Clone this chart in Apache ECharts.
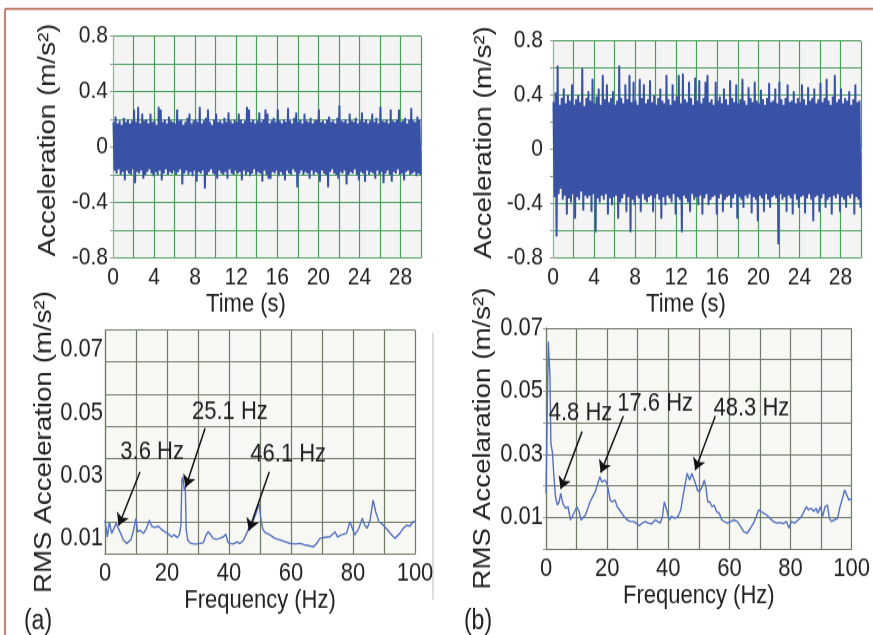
<!DOCTYPE html>
<html>
<head>
<meta charset="utf-8">
<script src="https://cdn.jsdelivr.net/npm/echarts@6/dist/echarts.min.js"></script>
<style>
  html, body { margin: 0; padding: 0; background: #fff; width: 873px; height: 635px; overflow: hidden; }
  /* the figure is laid out in a 873x538 box and stretched to full height */
  #chart { width: 873px; height: 538px; transform: scaleY(1.1803); transform-origin: 0 0; }
</style>
</head>
<body>
<div id="chart"></div>
<script>
// ---- time records: positive / negative peak per 0.2 s bin ----
const BIN = 0.2;

const peakUpA = [
  0.18, 0.22, 0.17, 0.19, 0.16, 0.21, 0.18, 0.20, 0.17, 0.19,
  0.27, 0.18, 0.29, 0.17, 0.24, 0.19, 0.20, 0.17, 0.24, 0.18,
  0.19, 0.16, 0.29, 0.27, 0.18, 0.20, 0.17, 0.22, 0.19, 0.18,
  0.17, 0.27, 0.19, 0.20, 0.16, 0.18, 0.21, 0.24, 0.17, 0.19,
  0.20, 0.18, 0.29, 0.17, 0.19, 0.21, 0.27, 0.18, 0.16, 0.20,
  0.24, 0.18, 0.19, 0.17, 0.21, 0.18, 0.25, 0.19, 0.17, 0.20,
  0.18, 0.24, 0.20, 0.17, 0.19, 0.29, 0.27, 0.18, 0.20, 0.17,
  0.19, 0.25, 0.18, 0.20, 0.27, 0.24, 0.17, 0.19, 0.21, 0.18,
  0.27, 0.19, 0.17, 0.20, 0.18, 0.28, 0.19, 0.17, 0.21, 0.25,
  0.18, 0.20, 0.17, 0.24, 0.19, 0.18, 0.21, 0.17, 0.19, 0.20,
  0.27, 0.18, 0.19, 0.17, 0.20, 0.22, 0.18, 0.19, 0.17, 0.21,
  0.30, 0.19, 0.18, 0.20, 0.17, 0.24, 0.19, 0.18, 0.21, 0.17,
  0.19, 0.25, 0.18, 0.20, 0.17, 0.19, 0.24, 0.18, 0.21, 0.17,
  0.29, 0.19, 0.18, 0.20, 0.17, 0.27, 0.19, 0.18, 0.20, 0.27,
  0.18, 0.19, 0.21, 0.17, 0.20, 0.28, 0.19, 0.18, 0.22, 0.20
];
const peakLoA = [
  -0.17, -0.19, -0.16, -0.20, -0.18, -0.24, -0.17, -0.19, -0.20, -0.16,
  -0.26, -0.18, -0.19, -0.17, -0.23, -0.20, -0.18, -0.16, -0.19, -0.21,
  -0.18, -0.20, -0.17, -0.24, -0.19, -0.16, -0.20, -0.18, -0.19, -0.17,
  -0.20, -0.18, -0.16, -0.27, -0.19, -0.17, -0.20, -0.18, -0.21, -0.17,
  -0.25, -0.18, -0.19, -0.17, -0.30, -0.20, -0.18, -0.16, -0.19, -0.20,
  -0.23, -0.17, -0.19, -0.20, -0.18, -0.23, -0.16, -0.19, -0.20, -0.17,
  -0.19, -0.18, -0.24, -0.17, -0.20, -0.18, -0.21, -0.19, -0.16, -0.20,
  -0.18, -0.19, -0.25, -0.17, -0.20, -0.23, -0.23, -0.18, -0.19, -0.17,
  -0.21, -0.18, -0.20, -0.24, -0.17, -0.19, -0.20, -0.16, -0.18, -0.29,
  -0.19, -0.17, -0.20, -0.18, -0.19, -0.23, -0.17, -0.20, -0.18, -0.19,
  -0.25, -0.17, -0.19, -0.20, -0.29, -0.18, -0.16, -0.19, -0.20, -0.23,
  -0.18, -0.19, -0.17, -0.27, -0.20, -0.18, -0.19, -0.16, -0.20, -0.24,
  -0.18, -0.19, -0.25, -0.17, -0.20, -0.18, -0.19, -0.23, -0.17, -0.20,
  -0.18, -0.26, -0.19, -0.17, -0.20, -0.25, -0.18, -0.19, -0.16, -0.20,
  -0.19, -0.24, -0.18, -0.17, -0.20, -0.19, -0.18, -0.21, -0.19, -0.20
];
const peakUpB = [
  0.35, 0.42, 0.62, 0.33, 0.38, 0.45, 0.34, 0.40, 0.36, 0.48,
  0.33, 0.37, 0.40, 0.35, 0.60, 0.32, 0.38, 0.43, 0.36, 0.52,
  0.34, 0.39, 0.45, 0.33, 0.55, 0.37, 0.48, 0.35, 0.38, 0.43,
  0.33, 0.36, 0.62, 0.38, 0.34, 0.48, 0.37, 0.55, 0.35, 0.50,
  0.36, 0.33, 0.52, 0.38, 0.48, 0.34, 0.37, 0.51, 0.35, 0.40,
  0.33, 0.38, 0.45, 0.36, 0.34, 0.55, 0.37, 0.33, 0.48, 0.36,
  0.39, 0.55, 0.34, 0.56, 0.37, 0.35, 0.50, 0.38, 0.33, 0.53,
  0.36, 0.51, 0.34, 0.38, 0.50, 0.55, 0.35, 0.37, 0.33, 0.50,
  0.36, 0.39, 0.34, 0.45, 0.37, 0.33, 0.51, 0.38, 0.35, 0.48,
  0.34, 0.37, 0.52, 0.36, 0.33, 0.46, 0.38, 0.35, 0.50, 0.36,
  0.34, 0.44, 0.37, 0.33, 0.38, 0.49, 0.35, 0.36, 0.45, 0.34,
  0.50, 0.37, 0.33, 0.38, 0.48, 0.35, 0.36, 0.43, 0.34, 0.38,
  0.35, 0.48, 0.37, 0.33, 0.46, 0.36, 0.38, 0.45, 0.34, 0.37,
  0.49, 0.35, 0.38, 0.52, 0.36, 0.33, 0.39, 0.55, 0.35, 0.37,
  0.45, 0.34, 0.38, 0.36, 0.43, 0.33, 0.37, 0.48, 0.35, 0.36
];
const peakLoB = [
  -0.35, -0.64, -0.33, -0.29, -0.37, -0.34, -0.48, -0.36, -0.39, -0.33,
  -0.51, -0.35, -0.37, -0.31, -0.45, -0.34, -0.36, -0.34, -0.46, -0.33,
  -0.61, -0.36, -0.39, -0.34, -0.37, -0.33, -0.48, -0.36, -0.41, -0.35,
  -0.34, -0.51, -0.39, -0.36, -0.33, -0.46, -0.35, -0.61, -0.37, -0.41,
  -0.34, -0.36, -0.46, -0.33, -0.37, -0.39, -0.35, -0.34, -0.46, -0.36,
  -0.33, -0.37, -0.51, -0.35, -0.41, -0.34, -0.36, -0.39, -0.33, -0.48,
  -0.35, -0.37, -0.61, -0.34, -0.36, -0.39, -0.46, -0.33, -0.37, -0.35,
  -0.41, -0.34, -0.48, -0.36, -0.33, -0.41, -0.37, -0.35, -0.34, -0.48,
  -0.36, -0.33, -0.46, -0.37, -0.35, -0.34, -0.43, -0.36, -0.33, -0.51,
  -0.35, -0.37, -0.43, -0.34, -0.36, -0.33, -0.47, -0.35, -0.37, -0.53,
  -0.34, -0.36, -0.46, -0.33, -0.37, -0.43, -0.35, -0.34, -0.36, -0.70,
  -0.33, -0.37, -0.35, -0.46, -0.34, -0.36, -0.48, -0.33, -0.37, -0.43,
  -0.35, -0.34, -0.47, -0.36, -0.33, -0.37, -0.53, -0.35, -0.34, -0.46,
  -0.36, -0.33, -0.43, -0.37, -0.35, -0.48, -0.34, -0.36, -0.33, -0.46,
  -0.35, -0.37, -0.43, -0.34, -0.36, -0.33, -0.48, -0.35, -0.37, -0.43
];

// ---- RMS spectra ----
const freqA = [0, 0.75, 1.4, 2.15, 3.6, 4.3, 5.05, 5.9, 7.0, 8.3, 9.1, 10.0, 10.5, 11.3, 12.4,
  13.4, 14.3, 15.05, 16.1, 17.2, 18.3, 19.4, 20.4, 21.5, 22.3, 23.3, 24.0, 24.5, 24.8, 25.1,
  25.6, 25.9, 26.2, 26.7, 27.4, 28.5, 29.6, 30.6, 31.7, 32.6, 33.3, 34.1, 34.9, 36.0, 37.0,
  38.2, 39.0, 39.6, 40.3, 41.4, 42.5, 43.5, 44.6, 45.7, 46.8, 47.9, 48.9, 49.7, 50.2, 50.8,
  51.6, 53.2, 54.8, 56.5, 58.1, 59.7, 61.3, 62.9, 64.5, 66.1, 67.2, 68.3, 69.3, 70.9, 72.6,
  74.2, 75.0, 76.3, 77.9, 79.0, 79.8, 80.6, 81.9, 83.0, 83.8, 84.6, 85.5, 86.5, 87.3, 88.4,
  89.8, 91.2, 92.5, 93.5, 95.1, 96.2, 97.3, 98.4, 99.4, 100];
const rmsA = [0.0157, 0.0104, 0.0152, 0.0115, 0.0147, 0.0131, 0.0115, 0.0094, 0.0083, 0.0094,
  0.0120, 0.0163, 0.0120, 0.0125, 0.0115, 0.0131, 0.0157, 0.0138, 0.0134, 0.0138,
  0.0127, 0.0120, 0.0113, 0.0104, 0.0110, 0.0102, 0.0110, 0.0141, 0.0285, 0.0295,
  0.0253, 0.0264, 0.0125, 0.0094, 0.0085, 0.0081, 0.0081, 0.0083, 0.0085, 0.0110,
  0.0120, 0.0110, 0.0099, 0.0096, 0.0099, 0.0104, 0.0112, 0.0088, 0.0083, 0.0081,
  0.0088, 0.0083, 0.0092, 0.0115, 0.0141, 0.0157, 0.0184, 0.0210, 0.0168, 0.0131,
  0.0118, 0.0110, 0.0099, 0.0094, 0.0088, 0.0083, 0.0081, 0.0083, 0.0078, 0.0075,
  0.0072, 0.0083, 0.0099, 0.0102, 0.0104, 0.0120, 0.0104, 0.0110, 0.0115, 0.0152,
  0.0131, 0.0110, 0.0131, 0.0163, 0.0141, 0.0131, 0.0157, 0.0221, 0.0184, 0.0152,
  0.0141, 0.0125, 0.0110, 0.0099, 0.0115, 0.0131, 0.0141, 0.0138, 0.0152, 0.0152];

const freqB = [0, 0.75, 1.0, 1.3, 1.6, 2.1, 2.6, 3.1, 3.7, 4.3,
  4.8, 5.5, 6.4, 7.2, 8.0, 8.6, 9.4, 10.1, 10.8, 11.5,
  12.0, 12.9, 13.7, 14.4, 15.3, 16.1, 16.9, 17.6, 18.3, 19.3,
  19.9, 20.4, 21.0, 21.7, 22.6, 23.3, 24.4, 25.5, 26.6, 27.6,
  28.7, 29.8, 30.5, 31.4, 32.5, 33.5, 34.6, 35.7, 36.6, 37.4,
  38.1, 38.7, 39.5, 40.3, 41.1, 42.2, 43.2, 44.1, 44.8, 45.6,
  46.2, 47.0, 47.7, 48.3, 48.9, 49.5, 50.2, 51.1, 51.8, 52.3,
  52.9, 53.6, 54.3, 55.0, 55.8, 56.7, 57.5, 58.3, 59.4, 60.4,
  61.5, 62.6, 63.7, 64.7, 65.8, 66.9, 67.9, 68.8, 69.6, 70.4,
  71.2, 72.2, 73.3, 74.4, 75.5, 76.6, 77.6, 78.7, 79.5, 80.3,
  81.4, 82.5, 83.6, 84.4, 85.2, 85.9, 86.8, 87.6, 88.4, 88.9,
  89.8, 90.5, 91.3, 92.1, 92.7, 93.4, 94.3, 95.4, 96.2, 97.0,
  97.7, 98.4, 99.1, 100];
const rmsB = [0.0176, 0.0657, 0.0660, 0.0546, 0.0335, 0.0306, 0.0229, 0.0166, 0.0139, 0.0149,
  0.0176, 0.0145, 0.0129, 0.0134, 0.0092, 0.0103, 0.0119, 0.0134, 0.0119, 0.0092,
  0.0087, 0.0108, 0.0129, 0.0149, 0.0166, 0.0181, 0.0205, 0.0229, 0.0212, 0.0218,
  0.0208, 0.0187, 0.0155, 0.0149, 0.0155, 0.0134, 0.0119, 0.0103, 0.0092, 0.0087,
  0.0087, 0.0080, 0.0073, 0.0082, 0.0087, 0.0082, 0.0080, 0.0092, 0.0087, 0.0082,
  0.0103, 0.0149, 0.0124, 0.0092, 0.0103, 0.0097, 0.0103, 0.0124, 0.0166, 0.0208,
  0.0240, 0.0218, 0.0240, 0.0238, 0.0208, 0.0187, 0.0181, 0.0197, 0.0218, 0.0197,
  0.0149, 0.0149, 0.0134, 0.0139, 0.0119, 0.0113, 0.0092, 0.0087, 0.0082, 0.0087,
  0.0092, 0.0087, 0.0071, 0.0055, 0.0050, 0.0066, 0.0082, 0.0103, 0.0124, 0.0119,
  0.0113, 0.0108, 0.0097, 0.0087, 0.0082, 0.0084, 0.0080, 0.0087, 0.0066, 0.0087,
  0.0082, 0.0092, 0.0103, 0.0119, 0.0134, 0.0124, 0.0129, 0.0119, 0.0129, 0.0113,
  0.0134, 0.0103, 0.0134, 0.0139, 0.0097, 0.0087, 0.0092, 0.0097, 0.0134, 0.0160,
  0.0187, 0.0171, 0.0155, 0.0160];

// ---- peak call-outs: label, text anchor [Hz, value], arrow tail, arrow tip ----
const notesA = [
  { text: '3.6 Hz',  at: [15.2, 0.0374], from: [11.3, 0.0311], to: [4.4, 0.0140] },
  { text: '25.1 Hz', at: [40.3, 0.0503], from: [32.3, 0.0450], to: [26.0, 0.0262] },
  { text: '46.1 Hz', at: [59.1, 0.0365], from: [53.0, 0.0311], to: [46.4, 0.0124] }
];
const notesB = [
  { text: '4.8 Hz',  at: [11.3, 0.0430], from: [11.8, 0.0372], to: [4.8, 0.0190] },
  { text: '17.6 Hz', at: [35.7, 0.0461], from: [25.3, 0.0421], to: [17.9, 0.0242] },
  { text: '48.3 Hz', at: [67.2, 0.0446], from: [55.4, 0.0421], to: [48.8, 0.0250] }
];

// RMS axis labels used on both spectra
const rmsTicks = [0.01, 0.03, 0.05, 0.07];

// ---------------------------------------------------------------
function envelope(up, lo) {
  const pts = [];
  for (let i = 0; i < up.length; i++) {
    pts.push([i * BIN + BIN * 0.25, up[i]]);
    pts.push([i * BIN + BIN * 0.75, lo[i]]);
  }
  return pts;
}
function pairs(xs, ys) {
  const n = Math.min(xs.length, ys.length);
  const out = [];
  for (let i = 0; i < n; i++) out.push([xs[i], ys[i]]);
  return out;
}
function arrows(notes) {
  return notes.map(n => [{ coord: n.from }, { coord: n.to }]);
}
function texts(notes) {
  return notes.map(n => ({ coord: n.at, value: n.text }));
}

const FONT = 'Liberation Sans, Arial, sans-serif';
const TXT = '#222';
const GREEN = '#4a9e5c';
const OLIVE = '#6f7c68';
const BAND = '#3a52a6';

function timeX(grid) {
  return {
    type: 'value', gridIndex: grid, min: 0, max: 30, interval: 2,
    name: 'Time (s)', nameLocation: 'middle', nameGap: 26,
    nameTextStyle: { fontFamily: FONT, fontSize: 22, color: TXT, padding: [0, 42, 0, 0] },
    axisLine: { show: true, lineStyle: { color: '#aaa', width: 1 } },
    axisTick: { show: true, length: 3, lineStyle: { color: '#999' } },
    axisLabel: {
      margin: 6, fontFamily: FONT, fontSize: 21, color: TXT,
      formatter: v => (Math.round(v) % 4 === 0 ? String(Math.round(v)) : '')
    },
    splitLine: { show: true, lineStyle: { color: GREEN, width: 1.2 } }
  };
}
function accelY(grid, margin, gap) {
  return {
    type: 'value', gridIndex: grid, min: -0.8, max: 0.8, interval: 0.2,
    name: 'Acceleration (m/s\u00B2)', nameLocation: 'middle', nameRotate: 90, nameGap: gap,
    nameTextStyle: { fontFamily: FONT, fontSize: 23.5, color: TXT, padding: [0, 0, 0, 12] },
    axisLine: { show: true, lineStyle: { color: '#aaa', width: 1 } },
    axisTick: { show: true, length: 3, lineStyle: { color: '#999' } },
    axisLabel: {
      margin: margin, fontFamily: FONT, fontSize: 21, color: TXT,
      formatter: v => {
        const k = Math.round(v * 10);
        if (k % 4 !== 0) return '';
        return k === 0 ? '0' : (k / 10).toFixed(1);
      }
    },
    splitLine: { show: true, lineStyle: { color: GREEN, width: 1.2 } }
  };
}
function freqX(grid, gap) {
  return {
    type: 'value', gridIndex: grid, min: 0, max: 100, interval: 10,
    name: 'Frequency (Hz)', nameLocation: 'middle', nameGap: gap,
    nameTextStyle: { fontFamily: FONT, fontSize: 22, color: TXT },
    axisLine: { show: true, lineStyle: { color: OLIVE, width: 1.2 } },
    axisTick: { show: false },
    axisLabel: {
      margin: 6, fontFamily: FONT, fontSize: 22, color: TXT,
      formatter: v => (Math.round(v) % 20 === 0 ? String(Math.round(v)) : '')
    },
    splitLine: { show: true, lineStyle: { color: OLIVE, width: 1.2 } }
  };
}
function bandSeries(axis, up, lo) {
  return {
    type: 'line', xAxisIndex: axis, yAxisIndex: axis, data: envelope(up, lo),
    showSymbol: false, symbol: 'none', sampling: null, silent: true, z: 3,
    lineStyle: { color: BAND, width: 2, join: 'miter' }
  };
}

const chart = echarts.init(document.getElementById('chart'), null, { renderer: 'canvas' });

chart.setOption({
  animation: false,
  backgroundColor: '#ffffff',
  grid: [
    { left: 113, top: 30.5, width: 308, height: 188.1, show: true, backgroundColor: '#f4f4f4', borderWidth: 0 },
    { left: 553, top: 34.7, width: 308, height: 183.9, show: true, backgroundColor: '#f4f4f4', borderWidth: 0 },
    { left: 105, top: 279.6, width: 310, height: 189.8, show: true, backgroundColor: '#f7f7f3', borderWidth: 0 },
    { left: 546, top: 277.9, width: 310, height: 187.2, show: true, backgroundColor: '#f7f7f3', borderWidth: 0 }
  ],
  xAxis: [timeX(0), timeX(1), freqX(2, 27), freqX(3, 28)],
  yAxis: [
    accelY(0, 5, 52),
    accelY(1, 10, 56),
    {
      type: 'value', gridIndex: 2, min: 0.0049, max: 0.0763, position: 'left',
      name: 'RMS Acceleration (m/s\u00B2)', nameLocation: 'middle', nameRotate: 90, nameGap: 45,
      nameTextStyle: { fontFamily: FONT, fontSize: 23.5, color: TXT },
      axisLine: { show: true, lineStyle: { color: OLIVE, width: 1.2 } },
      axisTick: { show: false },
      axisLabel: {
        margin: 2, fontFamily: FONT, fontSize: 22, color: TXT,
        customValues: rmsTicks, formatter: v => v.toFixed(2)
      },
      splitLine: { show: false }
    },
    {
      type: 'value', gridIndex: 2, min: 0, max: 0.07, interval: 0.01, position: 'right',
      axisLine: { show: false }, axisTick: { show: false }, axisLabel: { show: false },
      splitLine: { show: true, lineStyle: { color: OLIVE, width: 1.2 } }
    },
    {
      type: 'value', gridIndex: 3, min: 0, max: 0.07, interval: 0.01,
      name: 'RMS Accelaration (m/s\u00B2)', nameLocation: 'middle', nameRotate: 90, nameGap: 50,
      nameTextStyle: { fontFamily: FONT, fontSize: 23.5, color: TXT },
      axisLine: { show: true, lineStyle: { color: OLIVE, width: 1.2 } },
      axisTick: { show: true, length: 3, lineStyle: { color: '#999' } },
      axisLabel: {
        margin: 3, fontFamily: FONT, fontSize: 22, color: TXT,
        formatter: v => (Math.round(v * 100) % 2 === 1 ? v.toFixed(2) : '')
      },
      splitLine: { show: true, lineStyle: { color: OLIVE, width: 1.2 } }
    }
  ],
  series: [
    bandSeries(0, peakUpA, peakLoA),
    bandSeries(1, peakUpB, peakLoB),
    {
      type: 'line', xAxisIndex: 2, yAxisIndex: 2, data: pairs(freqA, rmsA),
      showSymbol: false, symbol: 'none', silent: true,
      lineStyle: { color: '#5571c0', width: 1.4 },
      markLine: {
        silent: true, symbol: ['none', 'arrow'], symbolSize: 10,
        lineStyle: { color: '#111', width: 1.5, type: 'solid' }, label: { show: false },
        data: arrows(notesA)
      },
      markPoint: {
        silent: true, symbol: 'circle', symbolSize: 0,
        label: { show: true, position: 'inside', formatter: p => p.value, fontFamily: FONT, fontSize: 22, color: TXT },
        data: texts(notesA)
      }
    },
    {
      type: 'line', xAxisIndex: 3, yAxisIndex: 4, data: pairs(freqB, rmsB),
      showSymbol: false, symbol: 'none', silent: true,
      lineStyle: { color: '#5571c0', width: 1.4 },
      markLine: {
        silent: true, symbol: ['none', 'arrow'], symbolSize: 10,
        lineStyle: { color: '#111', width: 1.5, type: 'solid' }, label: { show: false },
        data: arrows(notesB)
      },
      markPoint: {
        silent: true, symbol: 'circle', symbolSize: 0,
        label: { show: true, position: 'inside', formatter: p => p.value, fontFamily: FONT, fontSize: 22, color: TXT },
        data: texts(notesB)
      }
    }
  ],
  graphic: [
    { type: 'line', silent: true, shape: { x1: 5, y1: 7.6, x2: 873, y2: 7.6 }, style: { stroke: '#b35a40', lineWidth: 1.5 } },
    { type: 'line', silent: true, shape: { x1: 5, y1: 7.6, x2: 5, y2: 538 }, style: { stroke: '#b35a40', lineWidth: 1.5 } },
    { type: 'line', silent: true, shape: { x1: 433, y1: 282, x2: 433, y2: 508 }, style: { stroke: '#dedede', lineWidth: 2 } },
    { type: 'text', silent: true, style: { text: '(a)', x: 38, y: 527, align: 'center', verticalAlign: 'middle', fontFamily: FONT, fontSize: 23, fill: TXT } },
    { type: 'text', silent: true, style: { text: '(b)', x: 478, y: 527, align: 'center', verticalAlign: 'middle', fontFamily: FONT, fontSize: 23, fill: TXT } }
  ]
});
</script>
</body>
</html>
